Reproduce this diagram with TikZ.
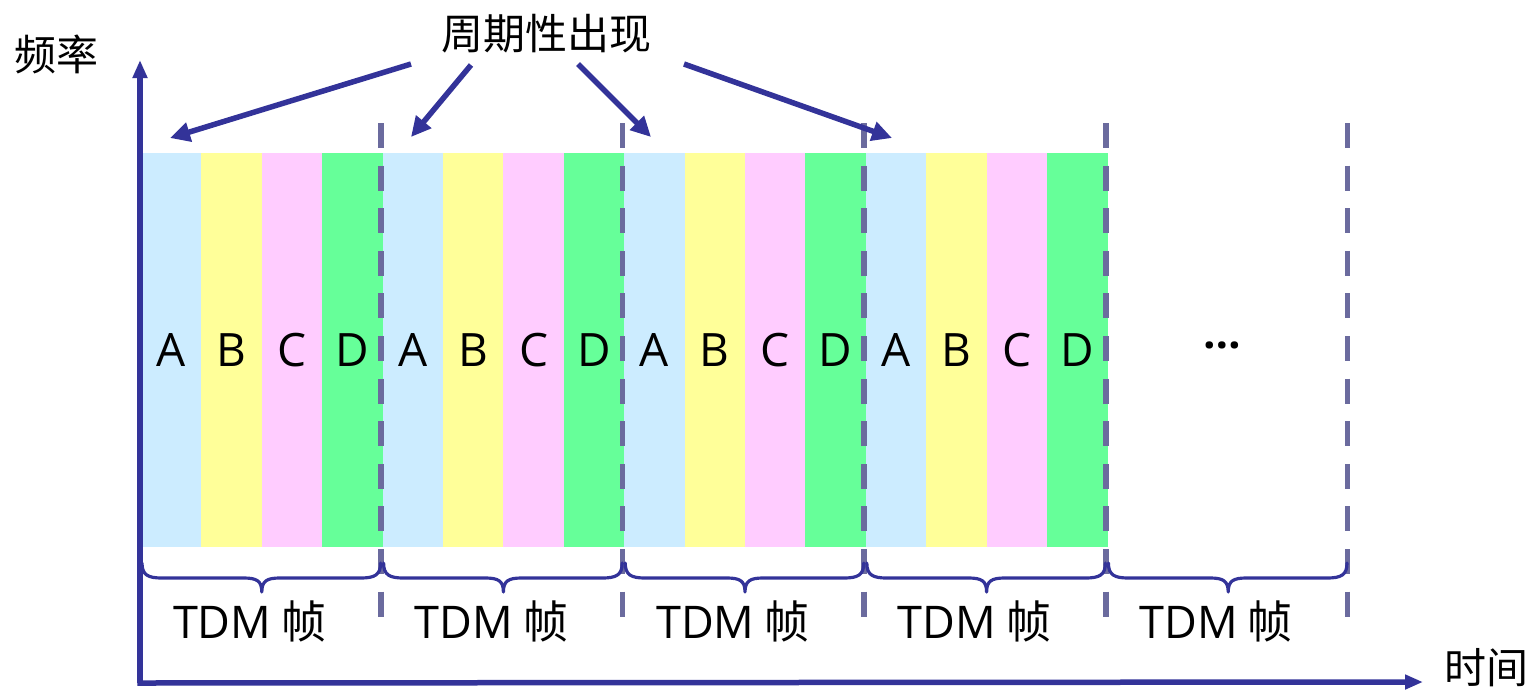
\documentclass[tikz,border=0pt]{standalone}
\usepackage{fontspec}
\setmainfont{Noto Sans CJK SC}
\newfontfamily\latinfont{Open Sans}
\usetikzlibrary{arrows.meta}
\definecolor{axisblue}{HTML}{333399}
\definecolor{dashgray}{HTML}{6B6B9E}
\definecolor{slotA}{HTML}{CCECFF}
\definecolor{slotB}{HTML}{FFFF99}
\definecolor{slotC}{HTML}{FFCCFF}
\definecolor{slotD}{HTML}{66FF99}
\tikzset{
  slot/.style={rectangle, inner sep=0pt, draw=none, minimum width=60.6pt, minimum height=394pt, font=\latinfont\fontsize{46}{48}\selectfont},
  framesep/.style={draw=dashgray, line width=5.7pt, dash pattern=on 25pt off 17.6pt},
  axisline/.style={draw=axisblue, line width=5.5pt, -{Triangle[length=18pt,width=14pt]}},
  pointer/.style={draw=axisblue, line width=5.5pt, -{Triangle[length=20pt,width=19pt]}},
  bracestyle/.style={draw=axisblue, line width=3.2pt, line cap=round, line join=round},
  bigtext/.style={inner sep=0pt, font=\fontsize{42}{44}\selectfont},
  framelabel/.style={inner sep=0pt, anchor=base, font=\fontsize{45}{47}\selectfont},
  dotstext/.style={inner sep=0pt, anchor=base, font=\latinfont\bfseries\fontsize{44}{46}\selectfont}
}
\begin{document}
\begin{tikzpicture}[x=1pt,y=-1pt]
\useasboundingbox (0,0) rectangle (1530,689);
% slots
\foreach \k in {0,...,3}{
  \foreach \c/\l [count=\i from 0] in {slotA/A,slotB/B,slotC/C,slotD/D}{
    \node[slot, fill=\c] (s\k\l) at ({141+241.6*\k+60.4*\i+30.2},350) {\l};
  }
}
\node[dotstext] (dots) at (1222,348) {…};
% frame separators
\foreach \j in {0,...,4}{
  \coordinate (sepT\j) at ({381+241.6*\j},123);
  \coordinate (sepB\j) at ({381+241.6*\j},617);
  \draw[framesep] (sepT\j) -- (sepB\j);
}
% braces
\foreach \j in {0,...,4}{
  \pgfmathsetmacro{\xa}{141+241.6*\j+1}
  \pgfmathsetmacro{\xb}{141+241.6*(\j+1)-2}
  \pgfmathsetmacro{\xm}{141+241.6*\j+120.8}
  \draw[bracestyle] (\xa,563) .. controls (\xa,575) and (\xa+6,578) .. (\xa+20,578)
     -- (\xm-18,578) .. controls (\xm-5,578) and (\xm,581) .. (\xm,592)
     .. controls (\xm,581) and (\xm+5,578) .. (\xm+18,578)
     -- (\xb-20,578) .. controls (\xb-6,578) and (\xb,575) .. (\xb,563);
  \node[framelabel] (f\j) at (\xm-12,638) {{\latinfont TDM} 帧};
}
% axes
\coordinate (origin) at (140,683);
\coordinate (ytip) at (140,60);
\coordinate (xtip) at (1423,682);
\draw[axisline] (origin) -- (ytip);
\draw[axisline] ([xshift=-2.75pt]origin) -- (xtip);
\node[bigtext] (freq) at (56,54) {频率};
\node[bigtext] (time) at (1486,668) {时间};
% periodic label and pointers
\node[bigtext] (period) at (546,34) {周期性出现};
\coordinate (p1) at (411,64);
\coordinate (p2) at (471,65);
\coordinate (p3) at (578,64);
\coordinate (p4) at (684,64);
\coordinate (t1) at (170,138);
\coordinate (t2) at (411,137);
\coordinate (t3) at (651,137);
\coordinate (t4) at (892,138);
\foreach \n in {1,...,4}{\draw[pointer] (p\n) -- (t\n);}
\end{tikzpicture}
\end{document}
